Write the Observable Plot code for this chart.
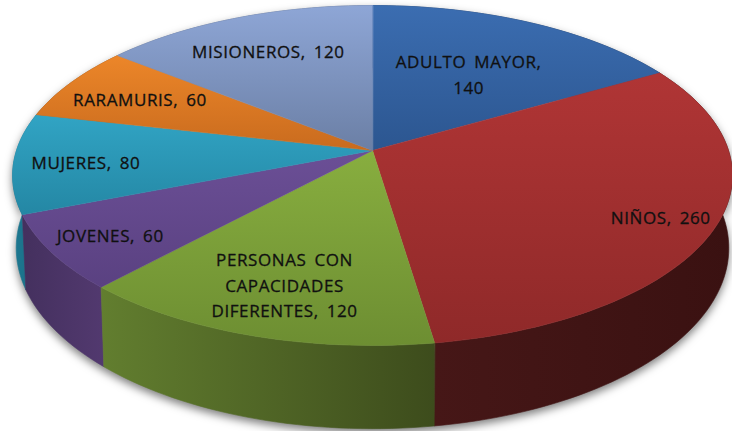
<!DOCTYPE html>
<html><head><meta charset="utf-8">
<script src="https://cdn.jsdelivr.net/npm/d3@7"></script>
<script src="https://cdn.jsdelivr.net/npm/@observablehq/plot@0.6"></script>
<style>html,body{margin:0;padding:0;background:#fff}
#chart g[aria-label=text] text{letter-spacing:0.6px;word-spacing:3px}</style>
</head><body><div id="chart"></div>
<script>
// ---- data ----
const categories = ["ADULTO MAYOR", "NIÑOS", "PERSONAS CON CAPACIDADES DIFERENTES", "JOVENES", "MUJERES", "RARAMURIS", "MISIONEROS"];
const values = [140, 260, 120, 60, 80, 60, 120];

// ---- styles / layout (kept apart from the data) ----
const topLight  = ["#3b6db1", "#b03535", "#88ae3f", "#6b4f96", "#31a4c4", "#ec8629", "#8ea6d6"];
const topDark   = ["#2c5690", "#8f2929", "#6d8e32", "#5a4181", "#2487a4", "#c96b1e", "#6b7fa5"];
const sideLeft  = ["#1e3a63", "#461717", "#627e2f", "#44305e", "#1d7891", "#9a5215", "#5a6b8c"];
const sideRight = ["#1a3357", "#3a1111", "#3d4c1c", "#52396f", "#1a6d84", "#8a4812", "#4e5e7c"];
const labelRadius = [0.58, 0.85, 0.75, 0.83, 0.8, 0.76, 0.74];
const wrapChars = [14, 30, 15, 30, 30, 30, 30];

// ---- projection of a tilted disc (perspective) ----
const P = 0.147, A = 356, B = 166.3, CX = 372, CY = 150, H = 71, BS = 0.99;
function topPt(t, r = 1) { const u = r*Math.sin(t), v = -r*Math.cos(t), d = 1 - P*v; return [CX + A*u/d, CY + B*v/d]; }
function botPt(t) { const u = Math.sin(t), v = -Math.cos(t), d = 1 - P*v; return [CX + BS*A*u/d, CY + B*v/d + H/d]; }

const total = d3.sum(values);
let acc = 0;
const slices = values.map((v, i) => {
  const a0 = acc / total * 2 * Math.PI; acc += v;
  const a1 = acc / total * 2 * Math.PI;
  return {i, a0, a1};
});
function arc(a0, a1) {
  const n = Math.max(4, Math.ceil((a1 - a0) / (Math.PI / 120)));
  return d3.range(n + 1).map(k => a0 + (a1 - a0) * k / n);
}
const topRows = [], sideRows = [];
for (const s of slices) {
  topRows.push({id: s.i, x: CX, y: CY, fill: `url(#top${s.i})`});
  for (const t of arc(s.a0, s.a1)) { const [x, y] = topPt(t); topRows.push({id: s.i, x, y, fill: `url(#top${s.i})`}); }
}
const sideOrder = slices.slice().sort((a, b) =>
  d3.max(arc(a.a0, a.a1), t => -Math.cos(t)) - d3.max(arc(b.a0, b.a1), t => -Math.cos(t)));
for (const s of sideOrder) {
  const ts = arc(s.a0, s.a1);
  for (const t of ts) { const [x, y] = topPt(t); sideRows.push({id: s.i, x, y, fill: `url(#side${s.i})`}); }
  for (const t of ts.slice().reverse()) { const [x, y] = botPt(t); sideRows.push({id: s.i, x, y, fill: `url(#side${s.i})`}); }
}
function wrap(text, n) {
  const words = text.split(" "), lines = [];
  let cur = "";
  for (const w of words) {
    if (cur && (cur + " " + w).length > n) { lines.push(cur); cur = w; }
    else cur = cur ? cur + " " + w : w;
  }
  lines.push(cur);
  return lines.join("\n");
}
const labels = slices.map(s => {
  const [x, y] = topPt((s.a0 + s.a1) / 2, labelRadius[s.i]);
  return {x, y, text: wrap(`${categories[s.i]}, ${values[s.i]}`, wrapChars[s.i])};
});

const plot = Plot.plot({
  width: 732, height: 431, margin: 0,
  x: {domain: [0, 732], range: [0, 732], axis: null},
  y: {domain: [0, 431], range: [0, 431], axis: null},
  color: {type: "identity"},
  marks: [
    Plot.line(sideRows, {x: "x", y: "y", z: "id", fill: "fill", stroke: "fill", strokeWidth: 0.6, curve: "linear-closed"}),
    Plot.line(topRows, {x: "x", y: "y", z: "id", fill: "fill", stroke: "fill", strokeWidth: 0.6, curve: "linear-closed"}),
    Plot.text(labels, {x: "x", y: "y", text: "text", fontSize: 17, fontFamily: "Open Sans", fill: "#101010",
      stroke: "#101010", strokeWidth: 0.3, lineHeight: 1.5})
  ]
});

const svg = d3.select(plot);
const defs = svg.insert("defs", ":first-child");
slices.forEach(s => {
  const g = defs.append("linearGradient").attr("id", `top${s.i}`).attr("x1", 0).attr("y1", 0).attr("x2", 0).attr("y2", 1);
  g.append("stop").attr("offset", "0%").attr("stop-color", topLight[s.i]);
  g.append("stop").attr("offset", "100%").attr("stop-color", topDark[s.i]);
  const h = defs.append("linearGradient").attr("id", `side${s.i}`).attr("x1", 0).attr("y1", 0).attr("x2", 1).attr("y2", 0);
  h.append("stop").attr("offset", "0%").attr("stop-color", sideLeft[s.i]);
  h.append("stop").attr("offset", "100%").attr("stop-color", sideRight[s.i]);
});
const lineGroups = svg.selectAll("g[aria-label=line]").nodes();
if (lineGroups[0]) lineGroups[0].style.filter = "drop-shadow(0px 4px 4px rgba(0,0,0,0.5))";
document.getElementById("chart").appendChild(plot);
</script>
</body></html>
